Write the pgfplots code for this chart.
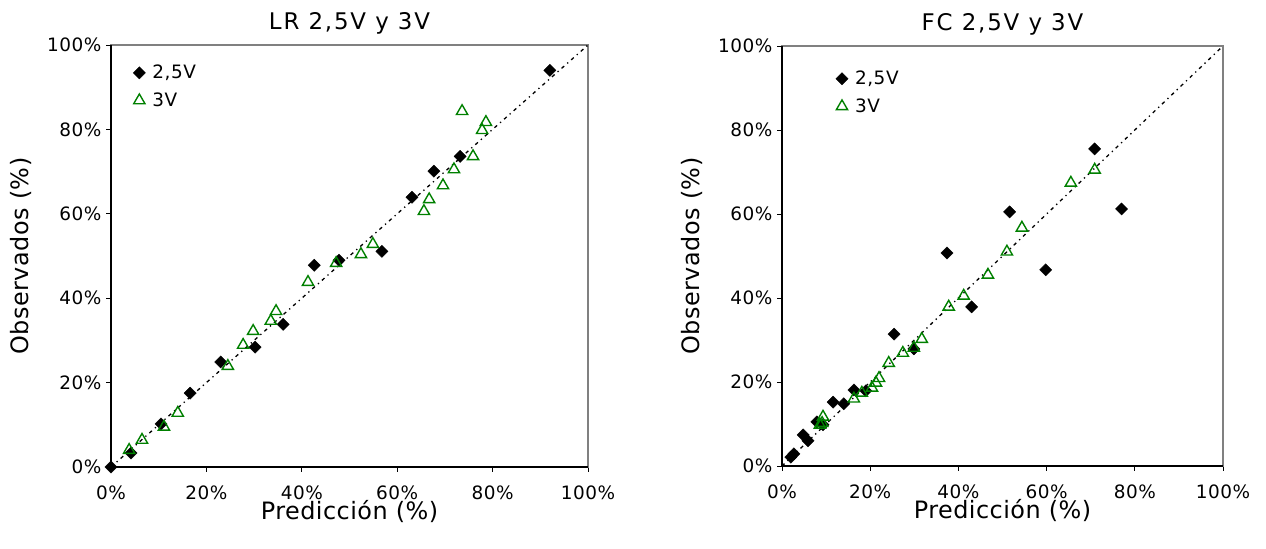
\documentclass[border=0pt]{standalone}
\usepackage{pgfplots}
\pgfplotsset{compat=1.18}
\usepackage{fontspec}
\setmainfont{DejaVu Sans}
\newfontfamily\tickfont[LetterSpace=3]{DejaVu Sans}
\newfontfamily\labfont[LetterSpace=2]{DejaVu Sans}
\newfontfamily\titfont[LetterSpace=8]{DejaVu Sans}
\definecolor{mygreen}{RGB}{0,128,0}
\definecolor{bordergray}{RGB}{128,128,128}
\pgfplotsset{
  mychart/.style={
    scale only axis,
    xmin=0, xmax=100, ymin=0, ymax=100,
    xtick={0,20,...,100}, ytick={0,20,...,100},
    xticklabel={\pgfmathprintnumber{\tick}\%},
    yticklabel={\pgfmathprintnumber{\tick}\%},
    /pgf/number format/assume math mode=true,
    tick label style={font=\tickfont\fontsize{18.5}{22}\selectfont, black},
    xticklabel style={yshift=-10bp},
    yticklabel style={xshift=-1bp},
    tick align=outside, xtick pos=bottom, ytick pos=left,
    major tick length=5bp,
    tick style={black, line width=0.8bp},
    axis line style={bordergray, line width=1.3bp},
    every axis title/.style={at={(axis description cs:0.5,1)}, anchor=base, yshift=15bp, font=\titfont\fontsize{23}{27}\selectfont},
    label style={font=\labfont\fontsize{24}{28}\selectfont},
    legend style={draw=none, fill=none, anchor=north west, font=\tickfont\fontsize{18.5}{22}\selectfont, row sep=8.5bp, legend cell align=left,
      /tikz/every odd column/.append style={column sep=5bp}},
    clip=false,
  },
  diag/.style={black, line width=1.3bp, dash pattern=on 3.5bp off 4bp on 1.3bp off 4bp, forget plot},
  s25/.style={only marks, mark=square*, mark size=4.3bp, mark options={rotate=45, fill=black, draw=black}},
  s3/.style={only marks, mark=triangle, mark size=6.5bp, mark options={draw=mygreen, line width=1.4bp}},
}
\begin{document}
\begin{tikzpicture}
\useasboundingbox (0,0) rectangle (1266bp,549bp);
% Left chart
\begin{axis}[mychart,
  at={(111bp,82bp)}, anchor=south west,
  width=477bp, height=422bp,
  title={LR 2,5V y 3V},
  xlabel={Predicción (\%)}, ylabel={Observados (\%)},
  xlabel style={at={(axis description cs:0.5,-0.125)}, anchor=base},
  ylabel style={at={(axis description cs:-0.172,0.5)}, anchor=base, rotate=0},
  legend style={at={(axis description cs:0.04,0.962)}},
]
\addplot[diag] coordinates {(0,0) (100,100)};
\addplot[s25] coordinates {
(0,0)(4.2,3.3)(10.5,10.2)(16.6,17.5)(23.0,24.9)(30.2,28.4)(36.1,33.8)(42.6,47.8)(47.8,49.0)(56.8,51.1)(63.1,63.9)(67.7,70.1)(73.2,73.6)(92.0,94.0)
};
\addlegendentry{2,5V}
\addplot[s3] coordinates {
(3.8,4.0)(6.5,6.4)(11.1,9.5)(14.0,12.8)(24.5,23.9)(27.7,28.9)(29.8,32.2)(33.5,34.6)(34.6,36.9)(41.3,43.8)(47.2,48.3)(52.4,50.4)(54.9,52.8)(65.6,60.6)(66.7,63.4)(69.6,66.7)(71.9,70.5)(75.9,73.6)(73.6,84.3)(78.6,81.7)(77.8,79.8)
};
\addlegendentry{3V}
\draw[black, line width=1.3bp] (rel axis cs:0,1) -- (rel axis cs:0,0) -- (rel axis cs:1,0);
\end{axis}
% Right chart
\begin{axis}[mychart,
  at={(782bp,83bp)}, anchor=south west,
  width=441bp, height=420bp,
  title={FC 2,5V y 3V},
  xlabel={Predicción (\%)}, ylabel={Observados (\%)},
  xlabel style={at={(axis description cs:0.5,-0.125)}, anchor=base},
  ylabel style={at={(axis description cs:-0.186,0.5)}, anchor=base, rotate=0},
  legend style={at={(axis description cs:0.115,0.95)}},
]
\addplot[diag] coordinates {(0,0) (100,100)};
\addplot[s25] coordinates {
(2.0,2.1)(2.7,2.9)(4.8,7.4)(5.9,6.0)(7.9,10.5)(9.3,9.8)(11.6,15.2)(14.0,14.8)(16.3,18.1)(19.0,17.9)(25.4,31.4)(29.9,27.9)(37.4,50.7)(43.0,37.9)(51.6,60.5)(59.8,46.7)(70.9,75.5)(77.0,61.2)
};
\addlegendentry{2,5V}
\addplot[s3] coordinates {
(8.6,9.8)(9.1,10.2)(9.3,11.7)(16.3,16.0)(18.1,17.4)(20.4,18.6)(21.3,19.8)(22.0,20.9)(24.2,24.5)(27.4,26.9)(29.9,28.1)(31.7,30.2)(37.8,37.9)(41.2,40.5)(46.7,45.5)(51.0,51.0)(54.4,56.7)(65.5,67.4)(70.9,70.5)
};
\addlegendentry{3V}
\draw[black, line width=1.3bp] (rel axis cs:0,1) -- (rel axis cs:0,0) -- (rel axis cs:1,0);
\end{axis}
\end{tikzpicture}
\end{document}
